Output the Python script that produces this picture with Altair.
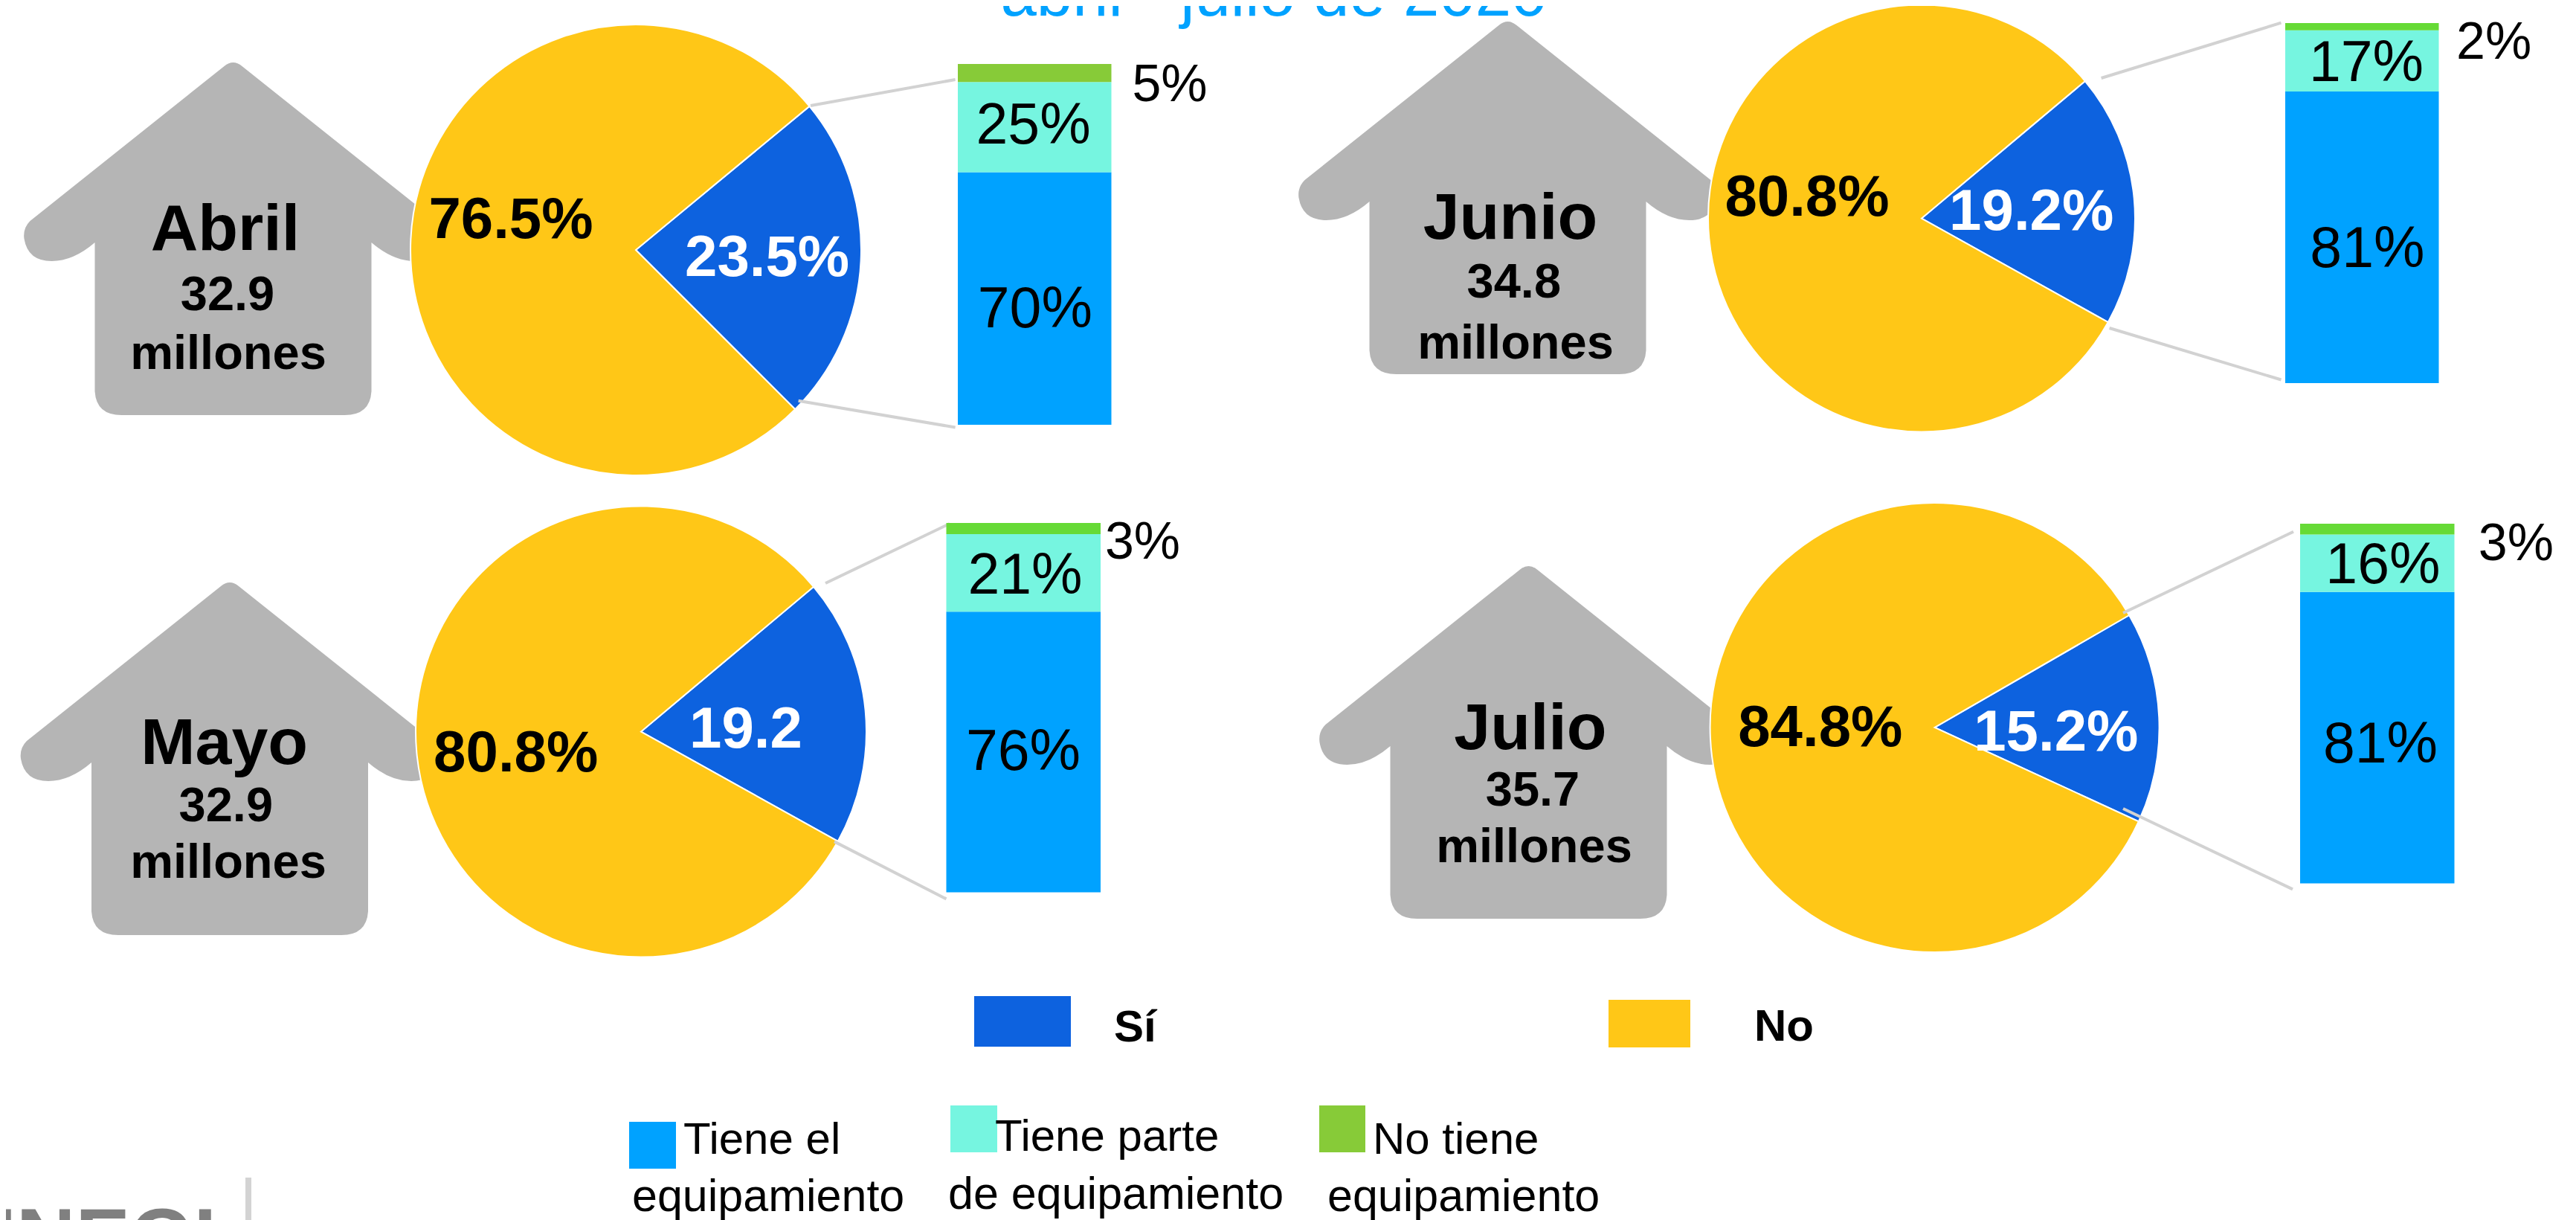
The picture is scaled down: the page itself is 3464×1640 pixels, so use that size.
import math
import altair as alt
import pandas as pd

# ---- chart values ----
months = ["Abril", "Mayo", "Junio", "Julio"]
millions = ["32.9", "32.9", "34.8", "35.7"]
unit = "millones"
si_values = [23.5, 19.2, 19.2, 15.2]
no_values = [76.5, 80.8, 80.8, 84.8]
si_labels = ["23.5%", "19.2", "19.2%", "15.2%"]
no_labels = ["76.5%", "80.8%", "80.8%", "84.8%"]
tiene_values = [70, 76, 81, 81]
parte_values = [25, 21, 17, 16]
no_tiene_values = [5, 3, 2, 3]
title_text = "abril - julio de 2020"
pie_legend = ["Sí", "No"]
bar_legend = ["Tiene el", "equipamiento", "Tiene parte", "de equipamiento", "No tiene", "equipamiento"]
logo_text = "INEGI"

# ---- styles ----
C_SI, C_NO = "#0D62DF", "#FFC717"
C_T, C_P = "#00A2FF", "#76F5E0"
C_N = ["#87CB38", "#66DA36", "#66DA36", "#66DA36"]
C_HOUSE, C_LINE, C_TITLE = "#B5B5B5", "#D2D2D2", "#00A2FF"
FONT = "Liberation Sans"
HOUSE = ("M-12,-232 L-273,-24 Q-283,-14 -281,0 Q-276,30 -244,30 "
         "Q-215,30 -186,5 L-186,205 Q-184,237 -150,237 L150,237 Q184,237 186,205 "
         "L186,5 Q215,30 244,30 Q276,30 281,0 Q283,-14 273,-24 L12,-232 Q0,-242 -12,-232 Z")

# ---- layout, in page pixels ----
LAYOUT = [
    dict(house=(313.5, 321), pie=(855, 336, 303, 50.4),
         bar=(1288, 1494.5, 571, 86),
         lines=[(1090, 142, 1284.6, 107), (1073.6, 538.7, 1284.6, 574.5)],
         head=[(303, 336), (306, 416.7), (307, 496)],
         no=(687, 320), si=(1031.6, 371),
         pct=[(1391.8, 440), (1389.6, 192.8), (1573, 135.5)]),
    dict(house=(309, 1020), pie=(862, 983.5, 303, 50),
         bar=(1272.5, 1480, 1199.6, 703),
         lines=[(1110, 784, 1277, 704), (1122, 1131.4, 1272.5, 1208.4)],
         head=[(301.6, 1027.4), (303.8, 1104), (307, 1179.8)],
         no=(693.7, 1036.7), si=(1003, 1005),
         pct=[(1376, 1034.6), (1378.5, 798), (1536.5, 751.3)]),
    dict(house=(2027.5, 266), pie=(2584, 293.5, 287, 50),
         bar=(3073, 3279.5, 515, 31),
         lines=[(2825.6, 105, 3067.5, 30.7), (2836.6, 441, 3067.5, 510.5)],
         head=[(2031, 320.7), (2035.8, 400), (2038, 482)],
         no=(2430, 289.6), si=(2731.7, 308.5),
         pct=[(3183.4, 358.6), (3182, 108.6), (3353.6, 79)]),
    dict(house=(2055.5, 998), pie=(2601.6, 978, 302, 60),
         bar=(3093, 3300.5, 1187.4, 704),
         lines=[(2855, 824, 3084, 714.7), (2855, 1087, 3083, 1195.4)],
         head=[(2057.9, 1007), (2061, 1083), (2063, 1158.8)],
         no=(2447.8, 1003), si=(2764.8, 1008.5),
         pct=[(3201, 1025), (3204.4, 784), (3383.4, 752.6)]),
]
M = 8  # page margin
ONE = pd.DataFrame({"a": [0]})


def text(s, x, y, size, bold=False, color="black", align="center"):
    return alt.Chart(pd.DataFrame({"t": [s]})).mark_text(
        font=FONT, fontSize=size, fontWeight="bold" if bold else "normal",
        color=color, align=align, baseline="alphabetic",
    ).encode(text="t:N", x=alt.value(x - M), y=alt.value(y - M))


def box(x0, x1, y0, y1, color):
    return alt.Chart(ONE).mark_rect(color=color).encode(
        x=alt.value(x0 - M), x2=alt.value(x1 - M),
        y=alt.value(y0 - M), y2=alt.value(y1 - M))


def line(x0, y0, x1, y1, width=4, color=C_LINE):
    return alt.Chart(ONE).mark_rule(color=color, strokeWidth=width).encode(
        x=alt.value(x0 - M), x2=alt.value(x1 - M),
        y=alt.value(y0 - M), y2=alt.value(y1 - M))


back, pies, rules, bars, labels = [], [], [], [], []
for i, L in enumerate(LAYOUT):
    # house
    back.append(alt.Chart(ONE).mark_point(
        shape=HOUSE, size=4, filled=True, fill=C_HOUSE, strokeWidth=0, opacity=1
    ).encode(x=alt.value(L["house"][0] - M), y=alt.value(L["house"][1] - M)))

    # pie
    cx, cy, r, start = L["pie"]
    a = math.radians(start)
    pie_df = pd.DataFrame({
        "cat": ["Sí", "No"],
        "v0": [0, si_values[i]],
        "v1": [si_values[i], si_values[i] + no_values[i]],
    })
    pies.append(alt.Chart(pie_df).mark_arc(radius=r, stroke="white", strokeWidth=2).encode(
        theta=alt.Theta("v0:Q", stack=None, scale=alt.Scale(domain=[0, 100], range=[a, a + 2 * math.pi])),
        theta2="v1:Q",
        color=alt.Color("cat:N", legend=None, scale=alt.Scale(domain=["Sí", "No"], range=[C_SI, C_NO])),
        x=alt.value(cx - M), y=alt.value(cy - M),
    ))

    # connector lines
    for seg in L["lines"]:
        rules.append(line(*seg))

    # stacked bar
    x0, x1, y_bottom, y_top = L["bar"]
    vals = [tiene_values[i], parte_values[i], no_tiene_values[i]]
    cats = ["Tiene", "Parte", "No tiene"]
    low = [0, vals[0], vals[0] + vals[1]]
    bar_df = pd.DataFrame({"cat": cats, "v0": low, "v1": [l + v for l, v in zip(low, vals)]})
    bars.append(alt.Chart(bar_df).mark_rect().encode(
        x=alt.value(x0 - M), x2=alt.value(x1 - M),
        y=alt.Y("v0:Q", axis=None, scale=alt.Scale(domain=[0, 100], range=[y_bottom - M, y_top - M])),
        y2="v1:Q",
        color=alt.Color("cat:N", legend=None, scale=alt.Scale(domain=cats, range=[C_T, C_P, C_N[i]])),
    ))

    # text
    labels.append(text(months[i], *L["head"][0], 88, True))
    labels.append(text(millions[i], *L["head"][1], 65, True))
    labels.append(text(unit, *L["head"][2], 65, True))
    labels.append(text(no_labels[i], *L["no"], 78, True))
    labels.append(text(si_labels[i], *L["si"], 78, True, "white"))
    labels.append(text(f"{vals[0]}%", *L["pct"][0], 77))
    labels.append(text(f"{vals[1]}%", *L["pct"][1], 77))
    labels.append(text(f"{vals[2]}%", *L["pct"][2], 70))

extras = [
    text(title_text, 1713, 21, 87, color=C_TITLE),
    box(1310, 1440, 1339, 1407, C_SI),
    text(pie_legend[0], 1498, 1400, 60, True, align="left"),
    box(2163, 2273, 1344, 1408, C_NO),
    text(pie_legend[1], 2359, 1399, 60, True, align="left"),
    box(846, 909, 1508, 1571, C_T),
    text(bar_legend[0], 919, 1551, 60, align="left"),
    text(bar_legend[1], 850, 1628, 61, align="left"),
    box(1278, 1341, 1486, 1549, C_P),
    text(bar_legend[2], 1338, 1547, 60, align="left"),
    text(bar_legend[3], 1275, 1625, 61, align="left"),
    box(1774, 1836, 1486, 1549, C_N[0]),
    text(bar_legend[4], 1846, 1551, 60, align="left"),
    text(bar_legend[5], 1785, 1628, 61, align="left"),
    text(logo_text, 291, 1701, 110, True, "#808080", "right"),
    line(334, 1583, 334, 1640, 8, "#D3D3D3"),
]

chart = alt.layer(*back, *pies, *rules, *bars, *labels, *extras).resolve_scale(
    y="independent", color="independent", theta="independent"
).properties(
    width=3448, height=1632, padding=0, autosize="none", background="white"
).configure_view(stroke=None)

chart.save("out.html", embed_options={"renderer": "svg", "actions": False})
